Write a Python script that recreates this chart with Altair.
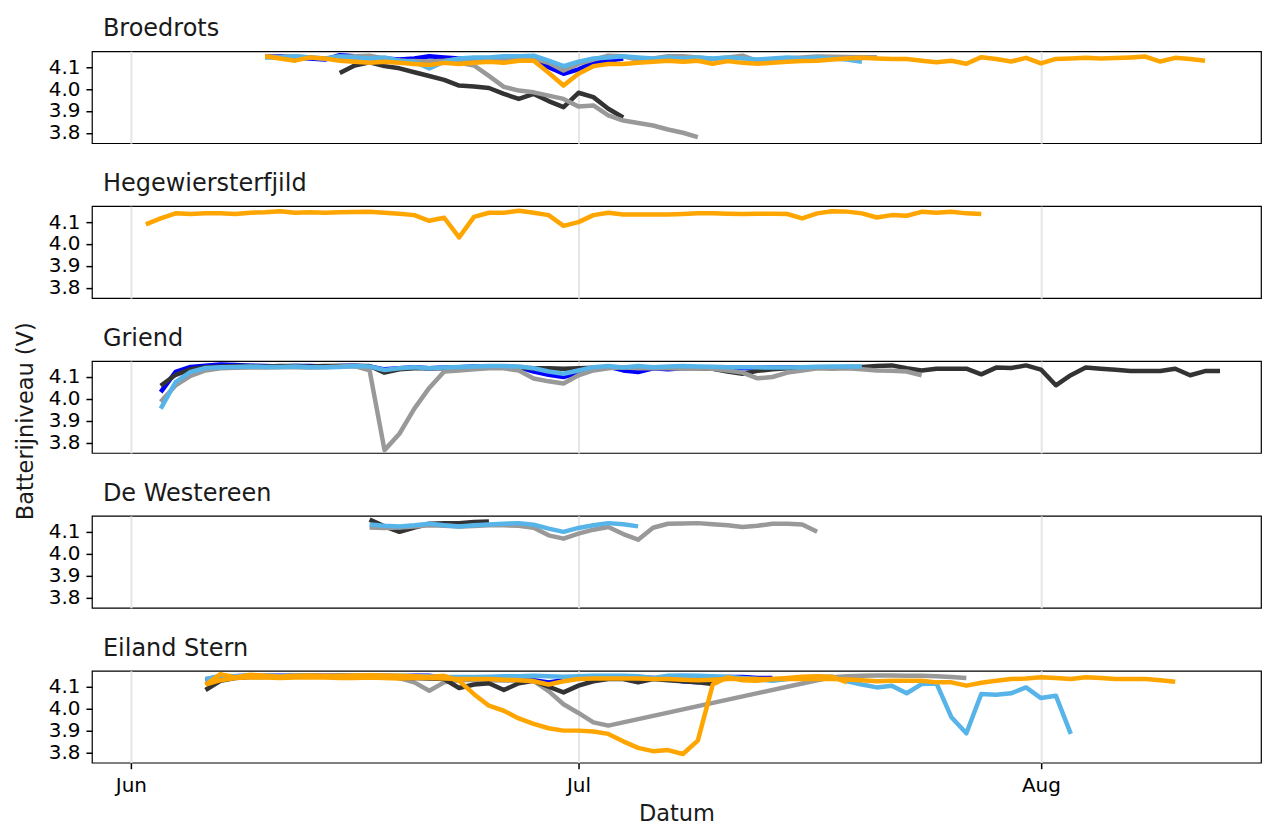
import altair as alt
import pandas as pd

# ---------------- data (day index 0 = 1 June) ----------------
PANELS = ["Broedrots", "Hegewiersterfjild", "Griend", "De Westereen", "Eiland Stern"]
TAGS = ["blue", "dark", "gray", "lightblue", "orange"]
TAG_COLORS = ["#0000FF", "#333333", "#999999", "#56B4E9", "#FFA500"]

BROEDROTS_BLUE = [4.150, 4.150, 4.145, 4.140, 4.135, 4.155, 4.150, 4.145, 4.140, 4.135,
                  4.140, 4.150, 4.145, 4.140, 4.140, 4.140, 4.140, 4.145, 4.140, 4.100,
                  4.070, 4.090, 4.120, 4.130, 4.140]
BROEDROTS_DARK = [4.074, 4.108, 4.123, 4.105, 4.095, 4.077, 4.060, 4.042, 4.016, 4.012,
                  4.005, 3.978, 3.955, 3.978, 3.945, 3.917, 3.983, 3.963, 3.910, 3.870]
BROEDROTS_GRAY_A = [4.146, 4.150, 4.153, 4.140, 4.130, 4.128, 4.126, 4.130, 4.138, 4.135,
                    4.130, 4.135, 4.140, 4.140, 4.120, 4.085, 4.115, 4.135, 4.153, 4.150,
                    4.134, 4.140, 4.150, 4.150, 4.145, 4.138, 4.145, 4.153, 4.128, 4.135,
                    4.141, 4.145, 4.149, 4.148, 4.147, 4.146, 4.146]
BROEDROTS_GRAY_B = [4.150, 4.148, 4.150, 4.145, 4.140, 4.145, 4.140, 4.135, 4.130, 4.130,
                    4.125, 4.125, 4.125, 4.120, 4.108, 4.060, 4.010, 3.993, 3.985, 3.970,
                    3.955, 3.920, 3.925, 3.880, 3.856, 3.845, 3.833, 3.815, 3.800, 3.780]
BROEDROTS_LIGHTBLUE = [4.145, 4.145, 4.150, 4.145, 4.140, 4.150, 4.145, 4.140, 4.145, 4.130,
                       4.125, 4.095, 4.125, 4.140, 4.145, 4.145, 4.150, 4.150, 4.153, 4.130,
                       4.105, 4.125, 4.140, 4.145, 4.150, 4.145, 4.140, 4.145, 4.140, 4.145,
                       4.140, 4.145, 4.140, 4.135, 4.140, 4.145, 4.140, 4.145, 4.140, 4.135,
                       4.125]
BROEDROTS_ORANGE = [4.150, 4.140, 4.130, 4.145, 4.140, 4.130, 4.125, 4.120, 4.125, 4.120,
                    4.115, 4.110, 4.120, 4.115, 4.120, 4.125, 4.120, 4.130, 4.130, 4.075,
                    4.016, 4.070, 4.105, 4.115, 4.115, 4.120, 4.125, 4.130, 4.125, 4.130,
                    4.116, 4.128, 4.120, 4.116, 4.120, 4.125, 4.128, 4.130, 4.135, 4.140,
                    4.143, 4.140, 4.138, 4.138, 4.130, 4.123, 4.130, 4.116, 4.146, 4.138,
                    4.126, 4.143, 4.118, 4.138, 4.140, 4.143, 4.140, 4.142, 4.145, 4.149,
                    4.126, 4.143, 4.138, 4.130]

HEGE_ORANGE = [4.090, 4.117, 4.140, 4.137, 4.140, 4.140, 4.137, 4.143, 4.145, 4.150,
               4.143, 4.145, 4.143, 4.145, 4.146, 4.147, 4.143, 4.138, 4.132, 4.106,
               4.120, 4.030, 4.124, 4.143, 4.143, 4.152, 4.143, 4.132, 4.083, 4.100,
               4.132, 4.143, 4.135, 4.135, 4.135, 4.135, 4.137, 4.140, 4.140, 4.138,
               4.137, 4.138, 4.138, 4.137, 4.117, 4.140, 4.150, 4.148, 4.140, 4.121,
               4.132, 4.129, 4.147, 4.143, 4.147, 4.140, 4.137]

GRIEND_BLUE = [4.031, 4.123, 4.146, 4.152, 4.157, 4.155, 4.152, 4.150, 4.148, 4.150,
               4.150, 4.148, 4.150, 4.152, 4.148, 4.135, 4.140, 4.145, 4.140, 4.143,
               4.145, 4.148, 4.147, 4.147, 4.145, 4.125, 4.110, 4.100, 4.120, 4.140,
               4.148, 4.130, 4.123, 4.140, 4.135, 4.140, 4.142, 4.143, 4.140, 4.140,
               4.142, 4.143, 4.144, 4.145, 4.145, 4.144, 4.143, 4.142]
GRIEND_DARK = [4.060, 4.110, 4.135, 4.145, 4.148, 4.150, 4.150, 4.148, 4.150, 4.150,
               4.148, 4.150, 4.150, 4.150, 4.150, 4.120, 4.135, 4.140, 4.140, 4.140,
               4.142, 4.143, 4.142, 4.143, 4.142, 4.140, 4.140, 4.138, 4.140, 4.142,
               4.145, 4.143, 4.143, 4.145, 4.143, 4.142, 4.140, 4.138, 4.125, 4.115,
               4.128, 4.135, 4.140, 4.142, 4.143, 4.144, 4.146, 4.146, 4.150, 4.153,
               4.140, 4.130, 4.138, 4.138, 4.138, 4.112, 4.143, 4.141, 4.153, 4.134,
               4.062, 4.108, 4.143, 4.138, 4.133, 4.127, 4.127, 4.127, 4.138, 4.108,
               4.127, 4.127]
GRIEND_GRAY = [3.986, 4.062, 4.105, 4.130, 4.140, 4.142, 4.143, 4.143, 4.145, 4.145,
               4.143, 4.145, 4.148, 4.150, 4.130, 3.765, 3.840, 3.955, 4.050, 4.125,
               4.130, 4.135, 4.140, 4.140, 4.130, 4.093, 4.080, 4.070, 4.108, 4.130,
               4.140, 4.145, 4.140, 4.140, 4.140, 4.138, 4.140, 4.138, 4.130, 4.120,
               4.094, 4.100, 4.120, 4.130, 4.140, 4.138, 4.140, 4.135, 4.130, 4.128,
               4.125, 4.108]
GRIEND_LIGHTBLUE = [3.955, 4.077, 4.123, 4.141, 4.145, 4.146, 4.148, 4.146, 4.146, 4.148,
                    4.145, 4.145, 4.146, 4.150, 4.148, 4.132, 4.140, 4.145, 4.140, 4.143,
                    4.146, 4.148, 4.150, 4.150, 4.148, 4.140, 4.125, 4.115, 4.130, 4.145,
                    4.150, 4.143, 4.150, 4.145, 4.148, 4.150, 4.148, 4.147, 4.145, 4.145,
                    4.144, 4.143, 4.143, 4.145, 4.147, 4.148, 4.148, 4.148]

WEST_DARK = [4.156, 4.125, 4.100, 4.120, 4.137, 4.140, 4.140, 4.145, 4.148]
WEST_GRAY = [4.120, 4.118, 4.120, 4.125, 4.130, 4.128, 4.125, 4.127, 4.130, 4.130,
             4.128, 4.119, 4.084, 4.069, 4.092, 4.110, 4.122, 4.090, 4.064, 4.119,
             4.137, 4.138, 4.140, 4.135, 4.130, 4.122, 4.128, 4.137, 4.137, 4.134,
             4.100]
WEST_LIGHTBLUE = [4.134, 4.128, 4.125, 4.130, 4.137, 4.130, 4.125, 4.130, 4.134, 4.137,
                  4.140, 4.133, 4.115, 4.100, 4.118, 4.130, 4.140, 4.135, 4.125]

STERN_BLUE = [4.130, 4.145, 4.148, 4.150, 4.150, 4.150, 4.148, 4.150, 4.150, 4.150,
              4.148, 4.150, 4.150, 4.148, 4.150, 4.150, 4.140, 4.130, 4.135, 4.140,
              4.140, 4.140, 4.130, 4.120, 4.130, 4.140, 4.145, 4.145, 4.140, 4.145,
              4.140, 4.135, 4.125, 4.120, 4.140, 4.145, 4.145, 4.140, 4.140]
STERN_DARK = [4.085, 4.127, 4.140, 4.145, 4.145, 4.148, 4.150, 4.150, 4.148, 4.150,
              4.150, 4.148, 4.145, 4.140, 4.140, 4.138, 4.135, 4.094, 4.110, 4.116,
              4.085, 4.116, 4.127, 4.100, 4.074, 4.105, 4.125, 4.135, 4.135, 4.120,
              4.135, 4.130, 4.125, 4.120, 4.112]
# None = no reading that day (the line jumps straight across the gap)
STERN_GRAY = [4.135, 4.145, 4.148, 4.150, 4.150, 4.148, 4.150, 4.150, 4.148, 4.150,
              4.148, 4.145, 4.145, 4.140, 4.120, 4.082, 4.120, 4.130, 4.132, 4.130,
              4.128, 4.130, 4.127, 4.080, 4.020, 3.980, 3.937, 3.922, None, None,
              None, None, None, None, None, None, None, None, None, None,
              None, 4.130, 4.143, 4.148, 4.150, 4.152, 4.152, 4.150, 4.150, 4.148,
              4.145, 4.140]
STERN_LIGHTBLUE = [4.135, 4.150, 4.148, 4.150, 4.150, 4.148, 4.150, 4.150, 4.148, 4.150,
                   4.150, 4.148, 4.150, 4.150, 4.148, 4.148, 4.145, 4.145, 4.145, 4.146,
                   4.148, 4.148, 4.150, 4.148, 4.146, 4.148, 4.150, 4.150, 4.150, 4.148,
                   4.140, 4.150, 4.152, 4.150, 4.148, 4.146, 4.140, 4.135, 4.127, 4.135,
                   4.143, 4.145, 4.146, 4.125, 4.110, 4.097, 4.105, 4.070, 4.112, 4.115,
                   3.960, 3.887, 4.067, 4.063, 4.070, 4.097, 4.048, 4.059, 3.884]
STERN_ORANGE_A = [4.110, 4.130, 4.140, 4.143, 4.142, 4.140, 4.142, 4.143, 4.142, 4.140,
                  4.140, 4.142, 4.140, 4.138, 4.140, 4.140, 4.138, 4.135, 4.135, 4.135,
                  4.132, 4.130, 4.125, 4.110, 4.125, 4.135, 4.138, 4.138, 4.138, 4.138,
                  4.135, 4.135, 4.132, 4.130, 4.132, 4.135, 4.136, 4.136, 4.135, 4.135,
                  4.135, 4.135, 4.135, 4.133, 4.130, 4.125, 4.127, 4.128, 4.127, 4.120,
                  4.120, 4.105, 4.118, 4.127, 4.135, 4.138, 4.143, 4.140, 4.135, 4.143,
                  4.140, 4.135, 4.135, 4.135, 4.130, 4.123]
STERN_ORANGE_B = [4.109, 4.158, 4.143, 4.155, 4.150, 4.146, 4.150, 4.152, 4.150, 4.150,
                  4.152, 4.153, 4.152, 4.150, 4.148, 4.145, 4.150, 4.127, 4.066, 4.013,
                  3.990, 3.955, 3.930, 3.910, 3.899, 3.899, 3.895, 3.884, 3.850, 3.820,
                  3.805, 3.810, 3.792, 3.853, 4.110, 4.143, 4.130, 4.127, 4.135, 4.140,
                  4.146, 4.148, 4.146, 4.120]

# (panel, tag, series id, first day, values)
SERIES = [
    ("Broedrots", "blue", "b1", 9, BROEDROTS_BLUE),
    ("Broedrots", "dark", "b2", 14, BROEDROTS_DARK),
    ("Broedrots", "gray", "b3", 14, BROEDROTS_GRAY_A),
    ("Broedrots", "gray", "b4", 9, BROEDROTS_GRAY_B),
    ("Broedrots", "lightblue", "b5", 9, BROEDROTS_LIGHTBLUE),
    ("Broedrots", "orange", "b6", 9, BROEDROTS_ORANGE),
    ("Hegewiersterfjild", "orange", "h1", 1, HEGE_ORANGE),
    ("Griend", "blue", "g1", 2, GRIEND_BLUE),
    ("Griend", "dark", "g2", 2, GRIEND_DARK),
    ("Griend", "gray", "g3", 2, GRIEND_GRAY),
    ("Griend", "lightblue", "g4", 2, GRIEND_LIGHTBLUE),
    ("De Westereen", "dark", "w1", 16, WEST_DARK),
    ("De Westereen", "gray", "w2", 16, WEST_GRAY),
    ("De Westereen", "lightblue", "w3", 16, WEST_LIGHTBLUE),
    ("Eiland Stern", "blue", "e1", 5, STERN_BLUE),
    ("Eiland Stern", "gray", "e2", 5, STERN_GRAY),
    ("Eiland Stern", "dark", "e3", 5, STERN_DARK),
    ("Eiland Stern", "lightblue", "e4", 5, STERN_LIGHTBLUE),
    ("Eiland Stern", "orange", "e5", 5, STERN_ORANGE_A),
    ("Eiland Stern", "orange", "e6", 5, STERN_ORANGE_B),
]

Y_TICKS = [3.8, 3.9, 4.0, 4.1]

# ---------------- build table ----------------
base = pd.Timestamp("2023-06-01")
rows = []
for k, (panel, tag, sid, start, vals) in enumerate(SERIES):
    for i, v in enumerate(vals):
        if v is None:
            continue
        rows.append({"panel": panel, "tag": tag, "series": f"{k:02d}_{sid}",
                     "order": k, "date": base + pd.Timedelta(days=start + i), "volt": v})
df = pd.DataFrame(rows)

FONT = "DejaVu Sans"
x_domain = [alt.DateTime(year=2023, month=5, date=29, hours=9, minutes=20),
            alt.DateTime(year=2023, month=8, date=15, hours=18)]
x_ticks = [alt.DateTime(year=2023, month=m, date=1) for m in (6, 7, 8)]
color = alt.Color("tag:N", scale=alt.Scale(domain=TAGS, range=TAG_COLORS), legend=None)

panels = []
for idx, name in enumerate(PANELS):
    sub = df[df["panel"] == name].sort_values(["order", "date"])
    last = idx == len(PANELS) - 1
    xaxis = alt.Axis(values=x_ticks, format="%b", grid=True, gridColor="#E5E5E5", gridWidth=2,
                     domain=False, labels=last, ticks=last, tickSize=6, tickColor="black",
                     tickWidth=1.5, title="Datum" if last else None,
                     labelFontSize=20, labelColor="black", labelPadding=7,
                     titleFontSize=22.5, titleFontWeight="normal", titlePadding=7)
    yaxis = alt.Axis(values=Y_TICKS, format=".1f", grid=False, domain=False,
                     tickSize=6, tickColor="black", tickWidth=1.5,
                     labelFontSize=20, labelColor="black", labelPadding=6, title=None)
    ch = alt.Chart(sub).mark_line(strokeWidth=4.5, strokeJoin="round").encode(
        x=alt.X("date:T", scale=alt.Scale(domain=x_domain), axis=xaxis),
        y=alt.Y("volt:Q", scale=alt.Scale(domain=[3.752, 4.173], nice=False, zero=False), axis=yaxis),
        color=color,
        detail="series:N",
        order=alt.Order("date:T"),
    ).properties(
        width=1170, height=92,
        title=alt.TitleParams(name, anchor="start", frame="group", dx=11, fontSize=24,
                              fontWeight="normal", font=FONT, color="#1a1a1a", offset=10),
    )
    panels.append(ch)

chart = alt.vconcat(*panels, spacing=27).properties(
    title=alt.TitleParams("Batterijniveau (V)", orient="left", anchor="middle", fontSize=22.5,
                          fontWeight="normal", font=FONT, color="#1a1a1a", offset=10),
    padding={"left": 15, "top": 16, "right": 2, "bottom": 2},
).configure_view(stroke="black", strokeWidth=1.2).configure_axis(
    labelFont=FONT, titleFont=FONT, titleColor="#1a1a1a"
).configure_concat(spacing=27)

chart.save("out.html", embed_options={"renderer": "svg", "actions": False})
